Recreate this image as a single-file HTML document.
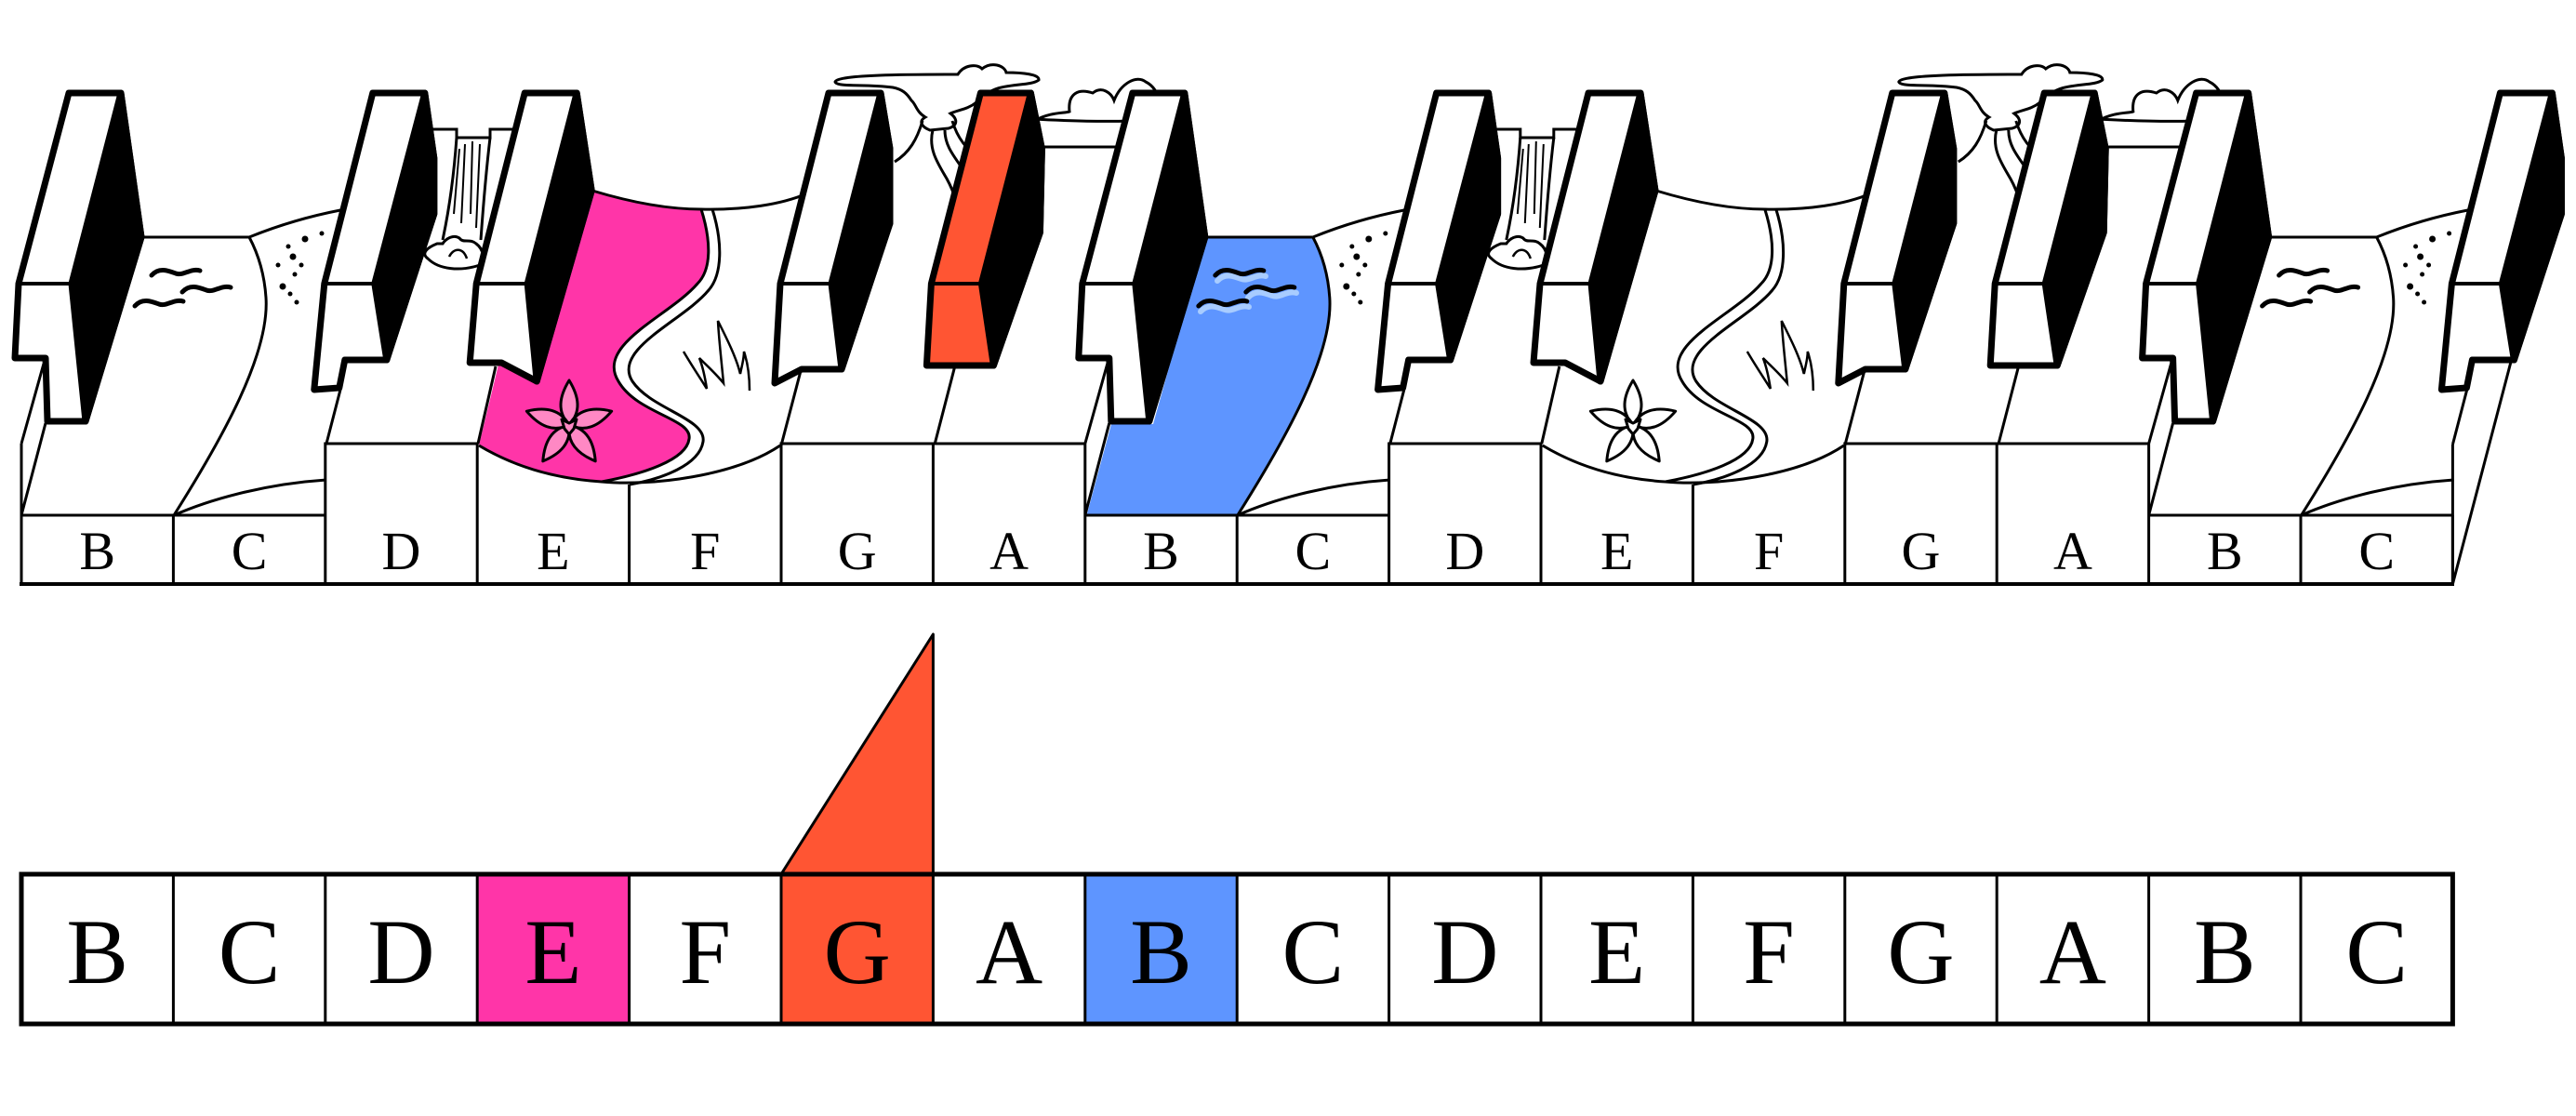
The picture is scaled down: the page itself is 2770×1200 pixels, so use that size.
<!DOCTYPE html>
<html><head><meta charset="utf-8"><style>
html,body{margin:0;padding:0;background:#fff;}
svg{display:block;}
text{font-family:"Liberation Serif",serif;}
</style></head><body>
<svg width="2770" height="1200" viewBox="0 0 2770 1200" xmlns="http://www.w3.org/2000/svg">
<defs>
<path id="wave" d="M0 0 C8 -9 18 -5 26 -2 C34 1 42 -8 52 -5" fill="none" stroke="#000" stroke-width="5" stroke-linecap="round"/>
<g id="petals">
 <path d="M0 0 C13 -14 11 -30 0 -48 C-11 -30 -13 -14 0 0 Z"/>
 <path transform="rotate(72)" d="M0 0 C13 -14 11 -30 0 -48 C-11 -30 -13 -14 0 0 Z"/>
 <path transform="rotate(144)" d="M0 0 C13 -14 11 -30 0 -48 C-11 -30 -13 -14 0 0 Z"/>
 <path transform="rotate(216)" d="M0 0 C13 -14 11 -30 0 -48 C-11 -30 -13 -14 0 0 Z"/>
 <path transform="rotate(288)" d="M0 0 C13 -14 11 -30 0 -48 C-11 -30 -13 -14 0 0 Z"/>
 <path d="M-8 -6 L0 -2 L8 -6 L5 4 L0 10 L-5 4 Z"/>
</g>

<!-- B-C terrain (octave start) -->
<g id="bc" fill="none" stroke="#000" stroke-width="3">
 <path d="M23 477 V554 M23 477 L47 391 M23 554 L49 455 M23 554 H349.8"/>
 <path d="M152 255 H268"/>
 <path d="M187 554 C240 470 290 380 286 320 C284 290 276 270 268 255"/>
 <path d="M187 554 C230 535 290 520 351 516"/>
 <path d="M268 255 C300 242 330 233 366 226"/>
 <g fill="#000" stroke="none">
  <circle cx="328" cy="257" r="3.5"/><circle cx="346" cy="251" r="2.5"/><circle cx="310" cy="265" r="2.5"/>
  <circle cx="315" cy="276" r="3.5"/><circle cx="324" cy="285" r="2.5"/><circle cx="299" cy="285" r="2.5"/>
  <circle cx="317" cy="295" r="2.5"/><circle cx="304" cy="308" r="3.5"/><circle cx="312" cy="316" r="2.5"/><circle cx="319" cy="325" r="2.5"/>
 </g>
 <use href="#wave" x="163" y="296"/>
 <use href="#wave" x="196" y="314"/>
 <use href="#wave" x="145" y="329"/>
</g>

<!-- D..A terrain -->
<g id="rest" fill="none" stroke="#000" stroke-width="3">
 <path d="M349.8 554 V477 H513.2 V554 M351 477 L366 419 M514 477 L533 394"/>
 <!-- waterfall -->
 <path d="M462 139 H491 V148 H527 V139 H556" />
 <path d="M491 148 C488 190 482 230 476 258 M527 148 C522 190 519 230 517 258" />
 <path d="M500 155 L496 240 M508 152 L506 230 M516 155 L512 245 M494 160 L488 230" stroke-width="2"/>
 <path d="M470 262 C460 266 452 272 460 278 C472 290 495 292 516 285 C522 280 520 268 512 262 C505 256 498 262 494 256 C488 252 480 256 476 262 Z" fill="#fff"/>
 <path d="M483 276 C488 266 498 266 502 278" stroke-width="2.5"/>
 <!-- E/F landscape -->
 <path d="M637 205 C680 218 720 225 754 225 C800 226 840 220 868 208"/>
 <path d="M754 225 C765 260 765 290 750 305 C720 340 640 370 665 410 C685 445 745 450 741 472 C738 495 690 510 647 518"/>
 <path d="M766 225 C777 260 777 295 762 312 C735 345 658 375 680 410 C700 440 760 450 756 475 C752 500 712 515 677 521"/>
 <path d="M515 479 C555 503 600 515 647 518 C700 523 790 512 839 479"/>
 <path d="M676.6 521 V554"/>
 <path d="M735 378 C745 395 752 405 760 418 C758 405 756 395 752 385 C762 395 770 402 778 412 C776 390 773 365 772 345 C782 365 792 385 796 402 C798 392 800 386 800 378 C804 390 806 405 806 420" stroke-width="2.5"/>
 <!-- G/A -->
 <path d="M840 554 V477 H1166.8 M1003.4 477 V554 M840 479 L862 395 M1005 478 L1027 393"/>
 <path d="M898 88 C900 80 980 80 1030 80 C1036 70 1050 68 1056 74 C1066 66 1080 70 1082 78 C1100 78 1118 80 1117 86 C1110 92 1085 90 1070 96 C1060 100 1056 104 1050 110 C1040 118 1030 118 1022 122 C1030 128 1030 135 1020 138 L1000 140 C990 136 988 130 995 126 C985 120 985 112 980 108 C975 100 970 96 960 94 C930 90 900 94 898 88 Z" fill="#fff"/>
 <path d="M1003 140 C998 160 1008 175 1018 192 C1028 210 1033 230 1031 252 M1016 140 C1016 160 1030 172 1042 192 M992 130 C986 150 978 164 962 174 M1024 130 C1030 150 1040 160 1050 168"/>
 <path d="M1112 130 C1130 120 1145 122 1150 120 C1148 100 1160 95 1175 100 C1185 92 1195 100 1198 108 C1205 90 1222 80 1232 88 C1240 92 1245 100 1247 110" fill="#fff"/>
 <path d="M1110 128 C1150 130 1190 131 1214 130 M1123 158 H1203"/>
</g>

<!-- black keys -->
<g id="k1" stroke="#000" stroke-width="7" stroke-linejoin="round">
 <path d="M0 100 L56 100 L78 255 L18 453 L-23 453 L-25 385 L-58 385 L-54 305 Z" fill="#fff"/>
 <path d="M56 100 L78 255 L18 453 L3 305 Z" fill="#000"/>
 <path d="M-54 305 H3" fill="none" stroke-width="4"/>
</g>
<g id="k2" stroke="#000" stroke-width="7" stroke-linejoin="round">
 <path d="M0 100 L56 100 L66 170 L66 230 L15 387 L-30 387 L-36 417 L-63 419 L-52 305 Z" fill="#fff"/>
 <path d="M56 100 L66 170 L66 230 L15 387 L2 305 Z" fill="#000"/>
 <path d="M-52 305 H2" fill="none" stroke-width="4"/>
</g>
<g id="k3" stroke="#000" stroke-width="7" stroke-linejoin="round">
 <path d="M0 100 L56 100 L72 205 L13 410 L-25 390 L-59 390 L-52 305 Z" fill="#fff"/>
 <path d="M56 100 L72 205 L13 410 L3 305 Z" fill="#000"/>
 <path d="M-52 305 H3" fill="none" stroke-width="4"/>
</g>
<g id="k5" stroke="#000" stroke-width="7" stroke-linejoin="round">
 <path d="M0 100 L56 100 L66 160 L66 240 L14 397 L-29 397 L-58 412 L-52 305 Z" fill="#fff"/>
 <path d="M56 100 L66 160 L66 240 L14 397 L3 305 Z" fill="#000"/>
 <path d="M-52 305 H3" fill="none" stroke-width="4"/>
</g>
<g id="k4w" stroke="#000" stroke-width="7" stroke-linejoin="round">
 <path d="M0 100 L54 100 L66 160 L64 250 L14 393 L-58 393 L-53 305 Z" fill="#fff"/>
 <path d="M54 100 L66 160 L64 250 L14 393 L1 305 Z" fill="#000"/>
 <path d="M-53 305 H1" fill="none" stroke-width="4"/>
</g>
<g id="k4o" stroke="#000" stroke-width="7" stroke-linejoin="round">
 <path d="M0 100 L54 100 L66 160 L64 250 L14 393 L-58 393 L-53 305 Z" fill="#FF5533"/>
 <path d="M54 100 L66 160 L64 250 L14 393 L1 305 Z" fill="#000"/>
 <path d="M-53 305 H1" fill="none" stroke-width="4"/>
</g>
</defs>

<!-- color fills -->
<path d="M637 205 C680 218 720 225 754 225 C765 260 765 290 750 305 C720 340 640 370 665 410 C685 445 745 450 741 472 C738 495 690 510 647 518 C600 515 555 503 515 479 L536 392 Z" fill="#FF35A8"/>
<path d="M1168.8 553 L1195 456 L1240 456 L1296 255 L1411.8 255 C1419.8 270 1427.8 290 1429.8 320 C1433.8 380 1383.8 470 1330.8 554 Z" fill="#5E95FF"/>
<g stroke="#A8CCFF" stroke-width="6" fill="none" stroke-linecap="round">
 <path d="M1309 302 C1317 293 1327 297 1335 300 C1343 303 1351 294 1361 297"/>
 <path d="M1342 320 C1350 311 1360 315 1368 318 C1376 321 1384 312 1394 315"/>
 <path d="M1291 335 C1299 326 1309 330 1317 333 C1325 336 1333 327 1343 330"/>
</g>

<!-- terrain -->
<use href="#bc"/>
<use href="#rest"/>
<use href="#bc" x="1143.8"/>
<use href="#rest" x="1143.8"/>
<use href="#bc" x="2287.6"/>
<g fill="none" stroke="#000" stroke-width="3">
 <path d="M2637.4 478 V628 M2637.4 628 L2700 389 M2637.4 478 L2653 418"/>
</g>

<!-- flowers -->
<g transform="translate(612,457)" fill="#FF88C4" stroke="#000" stroke-width="3" stroke-linejoin="round"><use href="#petals"/></g>
<g transform="translate(1756,457)" fill="#fff" stroke="#000" stroke-width="3" stroke-linejoin="round"><use href="#petals"/></g>

<!-- top letter row -->
<g fill="none" stroke="#000" stroke-width="3">
 <path d="M23 554 V628 M186.4 554 V628 M349.8 554 V628 M513.2 554 V628 M676.6 554 V628 M840 554 V628 M1003.4 554 V628 M1166.8 554 V628 M1330.2 554 V628 M1493.6 554 V628 M1657 554 V628 M1820.4 554 V628 M1983.8 554 V628 M2147.2 554 V628 M2310.6 554 V628 M2474 554 V628 M2637.4 554 V628"/>
 <path d="M21 628 H2639" stroke-width="4"/>
</g>
<g font-size="58" text-anchor="middle">
 <text x="104.7" y="612">B</text><text x="268.1" y="612">C</text><text x="431.5" y="612">D</text><text x="594.9" y="612">E</text>
 <text x="758.3" y="612">F</text><text x="921.7" y="612">G</text><text x="1085.1" y="612">A</text><text x="1248.5" y="612">B</text>
 <text x="1411.9" y="612">C</text><text x="1575.3" y="612">D</text><text x="1738.7" y="612">E</text><text x="1902.1" y="612">F</text>
 <text x="2065.5" y="612">G</text><text x="2228.9" y="612">A</text><text x="2392.3" y="612">B</text><text x="2555.7" y="612">C</text>
</g>

<!-- black keys -->
<use href="#k1" x="74"/>
<use href="#k2" x="400.8"/>
<use href="#k3" x="564.2"/>
<use href="#k5" x="891"/>
<use href="#k4o" x="1054.4"/>
<use href="#k1" x="1217.8"/>
<use href="#k2" x="1544.6"/>
<use href="#k3" x="1708"/>
<use href="#k5" x="2034.8"/>
<use href="#k4w" x="2198.2"/>
<use href="#k1" x="2361.6"/>
<use href="#k2" x="2688.4"/>

<!-- bottom row -->
<rect x="513.2" y="940" width="163.4" height="161" fill="#FF35A8"/>
<rect x="840" y="940" width="163.4" height="161" fill="#FF5533"/>
<rect x="1166.8" y="940" width="163.4" height="161" fill="#5E95FF"/>
<path d="M840 940 L1003.4 682 L1003.4 940 Z" fill="#FF5533" stroke="#000" stroke-width="3" stroke-linejoin="round"/>
<g fill="none" stroke="#000" stroke-width="3">
 <path d="M186.4 940 V1101 M349.8 940 V1101 M513.2 940 V1101 M676.6 940 V1101 M840 940 V1101 M1003.4 940 V1101 M1166.8 940 V1101 M1330.2 940 V1101 M1493.6 940 V1101 M1657 940 V1101 M1820.4 940 V1101 M1983.8 940 V1101 M2147.2 940 V1101 M2310.6 940 V1101 M2474 940 V1101"/>
 <rect x="23" y="940" width="2614.4" height="161" stroke-width="5"/>
</g>
<g font-size="100" text-anchor="middle">
 <text x="104.7" y="1057">B</text><text x="268.1" y="1057">C</text><text x="431.5" y="1057">D</text><text x="594.9" y="1057">E</text>
 <text x="758.3" y="1057">F</text><text x="921.7" y="1057">G</text><text x="1085.1" y="1057">A</text><text x="1248.5" y="1057">B</text>
 <text x="1411.9" y="1057">C</text><text x="1575.3" y="1057">D</text><text x="1738.7" y="1057">E</text><text x="1902.1" y="1057">F</text>
 <text x="2065.5" y="1057">G</text><text x="2228.9" y="1057">A</text><text x="2392.3" y="1057">B</text><text x="2555.7" y="1057">C</text>
</g>
</svg>
</body></html>
